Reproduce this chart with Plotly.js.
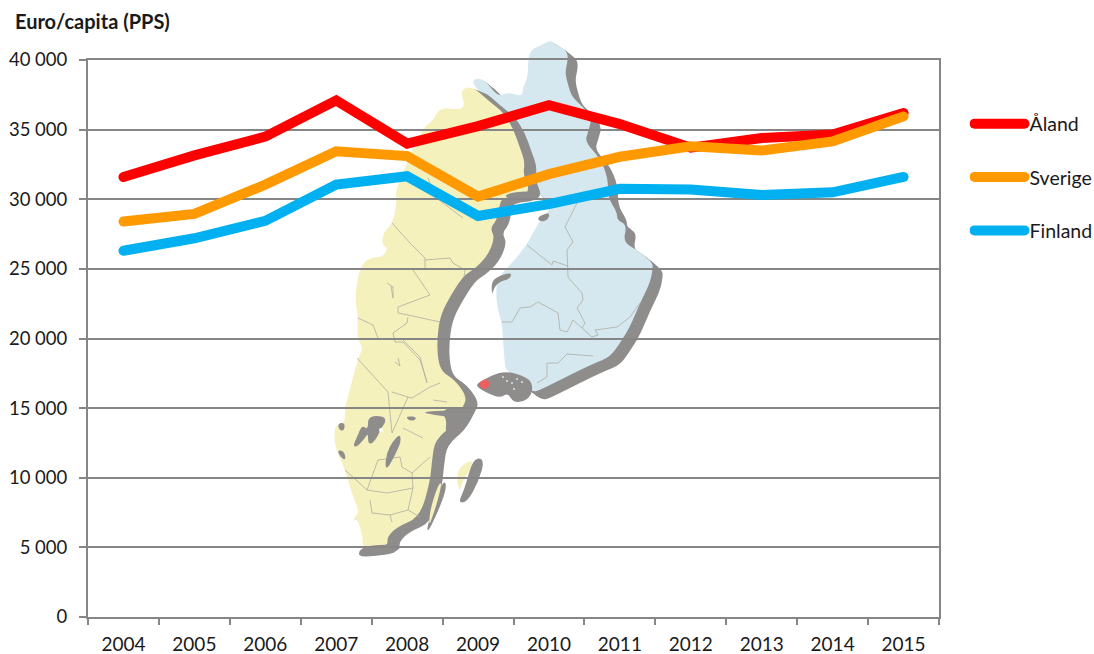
<!DOCTYPE html>
<html>
<head>
<meta charset="utf-8">
<script src="https://cdn.plot.ly/plotly-3.0.1.min.js"></script>
<style>
html,body{margin:0;padding:0;background:#fff}
#chart{width:1094px;height:654px}
.js-line,.legendlines path{stroke-linecap:round!important}
</style>
</head>
<body>
<div id="chart"></div>
<script>
var years = ['2004','2005','2006','2007','2008','2009','2010','2011','2012','2013','2014','2015'];
var aland = [31600,33150,34500,37100,34000,35250,36750,35400,33700,34400,34650,36200];
var sverige = [28400,28950,31050,33450,33100,30200,31800,33050,33800,33500,34150,35950];
var finland = [26300,27200,28450,31050,31650,28800,29650,30750,30700,30300,30500,31600];

/* Background illustration (decorative map), outlines in page pixels */
var swedenOutline = "460,90 472,86 490,102 503,112 513,128 520,148 525,162 523,175 530,190 522,196 503,198 500,203 497,220 490,228 495,238 487,257 473,270 463,276 448,300 440,317 437,340 438,360 442,372 455,380 467,397 463,407 453,425 435,440 432,460 430,482 420,517 397,527 387,537 388,547 362,548 363,538 357,517 351,520 360,513 353,497 345,470 340,458 335,447 334,425 345,423 345,407 348,397 358,358 363,348 357,338 358,317 355,300 357,283 360,268 368,258 383,257 388,248 382,245 383,233 393,223 397,200 395,190 423,127 432,122 440,107 460,110 465,105";
var finlandOutline = "528,58 532,49 540,46 550,40 557,45 567,51 568,60 565,72 568,85 572,97 583,107 592,118 588,132 585,142 600,158 608,178 608,198 617,212 617,220 627,225 623,242 637,250 652,262 653,268 650,283 640,303 630,327 620,343 610,357 595,363 580,370 560,380 540,390 533,392 525,387 507,370 505,367 503,340 502,323 497,307 496,290 498,277 512,263 527,245 537,225 545,215 553,205 547,200 532,188 523,175 525,162 520,148 513,128 503,112 490,102 472,84 475,78 485,80 498,97 508,92 522,97 523,87 528,77";
var gotlandOutline = "465,463 473,460 470,470 462,482 460,492 457,482 458,470";
var olandOutline = "438,485 442,482 438,500 432,518 429,526 430,510";
var alandIsland = "477,383 488,378 490,387 483,390";
var grayPatches = [
 "477,383 503,370 527,377 533,385 531,396 523,402 513,402 508,393 500,398 487,393 477,387",
 "368,416 384,416 386,422 381,428 378,436 372,444 368,443 368,433 365,438 357,447 353,446 357,437 362,425 368,430",
 "400,434 401,442 395,455 388,468 385,467 387,452 393,441",
 "406,416 417,417 414,421 408,420",
 "420,412 452,410 450,417 435,415",
 "440,410 465,405 472,420 455,440 445,432 447,420",
 "493,278 512,272 510,279 498,282 492,292 495,298 491,290",
 "537,217 550,212 548,220 540,222",
 "503,194 532,190 533,199 510,200",
 "338,423 345,423 344,431 339,430",
 "337,450 344,451 346,460 341,458",
 "473,458 485,459 478,483 467,502 458,503 465,488",
 "442,482 447,483 443,500 428,533 427,526",
 "362,546 396,544 397,553 376,556 357,557"
];
var swedenBorders = [
 "392,223 410,243 425,258 425,268",
 "425,260 450,258 453,263 465,270 464,277",
 "413,270 430,295 398,307 398,313 408,315 440,322",
 "358,318 373,325 378,338",
 "408,317 407,323 393,333 395,342 403,342 420,360 427,382",
 "387,283 393,287 393,298 391,286",
 "428,178 435,197 463,218",
 "357,358 388,392 392,433",
 "392,392 408,397 412,398 430,387 440,383",
 "403,340 420,357 427,383",
 "433,400 447,402",
 "403,428 423,438",
 "408,397 392,433",
 "378,460 400,457 402,467 412,473 430,457",
 "345,470 367,490 378,460",
 "367,490 387,493 413,488 408,510 390,515 392,522",
 "370,500 372,513 390,515",
 "412,473 413,488",
 "408,510 420,517",
 "395,362 400,366 398,358"
];
var finlandBorders = [
 "577,203 565,227 573,242 567,250 568,277 572,282 582,293 583,300 577,308 585,323 582,328 592,337 598,335 595,330 617,327 630,317 640,303",
 "527,245 552,265 553,261 568,266",
 "502,322 512,322 520,308 530,307 538,302 558,313 560,330 567,332 573,320 582,328",
 "537,383 547,377 547,363 558,363 567,354 593,356"
];
var specks = ["507,381","512,383","517,379","522,382","503,377","514,389"];

function smoothPath(pts){
  var p=pts.split(' ').map(function(c){return c.split(',').map(Number);});
  var n=p.length, d='';
  for(var i=0;i<n;i++){
    var a=p[i], b=p[(i+1)%n], m=[(a[0]+b[0])/2,(a[1]+b[1])/2];
    if(i===0){ var z=p[n-1]; d+='M'+((z[0]+a[0])/2)+','+((z[1]+a[1])/2); }
    d+='Q'+a[0]+','+a[1]+' '+m[0]+','+m[1];
  }
  return d+'Z';
}
function outline(pts,fill,extra){ return '<path d="'+smoothPath(pts)+'" fill="'+fill+'"'+(extra||'')+'/>'; }
function shade(pts,gray,dx,dy){
  var s='';
  for(var k=1;k<=6;k++){
    s+=outline(pts,gray,' transform="translate('+(dx*k/6)+','+(dy*k/6)+')"');
  }
  return s;
}
function buildMap(){
  var gray='#8F8C8C', yellow='#F5F1BD', blue='#D5E8F0', edge='#ADADA0';
  var s='<svg xmlns="http://www.w3.org/2000/svg" width="1094" height="654" viewBox="0 0 1094 654">'+
    '<defs><filter id="b" x="0" y="0" width="1" height="1"><feGaussianBlur stdDeviation="0.45"/></filter></defs><g filter="url(#b)">';
  s+=shade(finlandOutline,gray,10,8)+outline(finlandOutline,blue);
  finlandBorders.forEach(function(p){s+='<polyline points="'+p+'" fill="none" stroke="'+edge+'" stroke-width="0.8"/>';});
  s+=shade(swedenOutline,gray,12,5)+outline(swedenOutline,yellow);
  swedenBorders.forEach(function(p){s+='<polyline points="'+p+'" fill="none" stroke="'+edge+'" stroke-width="0.8"/>';});
  grayPatches.forEach(function(p){s+=outline(p,gray);});
  s+=outline(gotlandOutline,yellow)+outline(olandOutline,yellow);
  specks.forEach(function(p){var c=p.split(',');s+='<circle cx="'+c[0]+'" cy="'+c[1]+'" r="1" fill="'+blue+'"/>';});
  s+=outline(alandIsland,'#EA5F5F');
  s+='<circle cx="381" cy="430" r="2" fill="#fff"/>';
  s+='</g></svg>';
  return 'data:image/svg+xml;charset=utf-8,'+encodeURIComponent(s);
}

var plotL=88, plotR=939, plotT=60, plotB=617, W=1094, H=654;
var pw=plotR-plotL, ph=plotB-plotT;

function series(name,vals,color){
  return {type:'scatter',mode:'lines',name:name,x:years,y:vals,legendgroup:name,
    line:{color:color,width:10,shape:'linear'},hoverinfo:'x+y'};
}
var data=[series('Åland',aland,'#FF0000'),series('Sverige',sverige,'#FF9900'),series('Finland',finland,'#00B0F0')];

var font='Lato, "Open Sans", sans-serif';
var ink='#1a1a1a';
var layout={
  width:W,height:H,
  margin:{l:plotL,r:W-plotR,t:plotT,b:H-plotB,pad:0,autoexpand:false},
  paper_bgcolor:'#fff',plot_bgcolor:'rgba(0,0,0,0)',
  separators:'. ',
  font:{family:font,size:18,color:ink},
  title:{text:'<b>Euro/capita (PPS)</b>',xref:'container',yref:'container',x:15/W,xanchor:'left',y:1-22/H,yanchor:'middle',font:{family:font,size:20,color:ink}},
  xaxis:{type:'category',range:[-0.5,11.5],tickson:'boundaries',ticks:'outside',ticklen:6,tickwidth:2,tickcolor:'#868686',ticklabelstandoff:9,
    showline:true,linecolor:'#868686',linewidth:2,mirror:true,showgrid:false,zeroline:false,
    tickfont:{family:font,size:19,color:ink}},
  yaxis:{range:[0,40000],dtick:5000,tick0:0,tickformat:',d',ticks:'outside',ticklen:7,tickwidth:2,tickcolor:'#868686',ticklabelstandoff:8,
    showline:true,linecolor:'#868686',linewidth:2,mirror:true,showgrid:true,gridcolor:'#868686',gridwidth:2,zeroline:false,
    tickfont:{family:font,size:18.5,color:ink}},
  legend:{x:(969.5-plotL)/pw,xanchor:'left',xref:'paper',y:1-(104.5-plotT)/ph,yanchor:'top',yref:'paper',bgcolor:'rgba(0,0,0,0)',
    itemwidth:50,tracegroupgap:25,font:{family:font,size:19.5,color:ink},traceorder:'grouped'},
  images:[{source:buildMap(),xref:'paper',yref:'paper',x:-plotL/pw,y:1+plotT/ph,sizex:W/pw,sizey:H/ph,xanchor:'left',yanchor:'top',sizing:'stretch',layer:'below',opacity:1}],
  showlegend:true
};
Plotly.newPlot('chart',data,layout,{displayModeBar:false,responsive:false});
</script>
</body>
</html>
